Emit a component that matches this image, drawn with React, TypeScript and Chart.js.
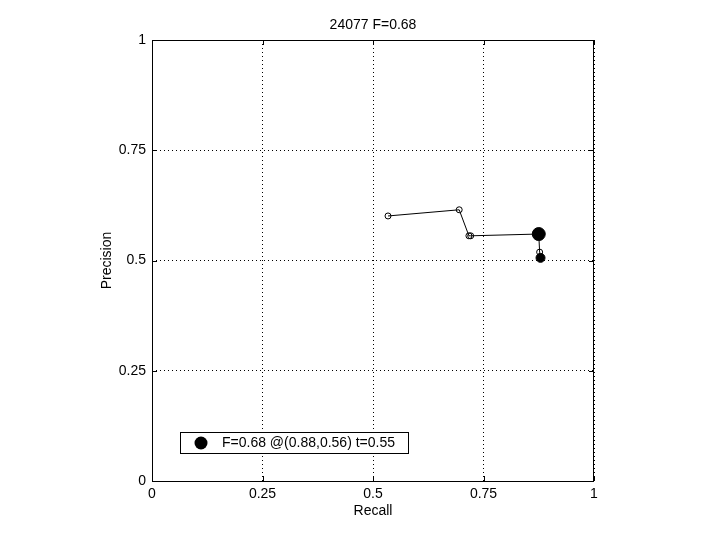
import React, { useEffect, useRef } from "react";
import { Chart, registerables } from "chart.js";

Chart.register(...registerables);

const recall = [0.534, 0.695, 0.717, 0.721, 0.875, 0.877, 0.879];
const precision = [0.601, 0.615, 0.556, 0.556, 0.56, 0.519, 0.506];
const pointFilled = [false, false, false, false, false, false, true];
const bestRecall = [0.875];
const bestPrecision = [0.56];
const tickValues = [0, 0.25, 0.5, 0.75, 1];
const tickLabels = ["0", "0.25", "0.5", "0.75", "1"];
const titleText = "24077 F=0.68";
const xLabel = "Recall";
const yLabel = "Precision";
const legendText = "F=0.68 @(0.88,0.56) t=0.55";

const FONT = "'Liberation Sans', Arial, Helvetica, sans-serif";

const decorPlugin = {
  id: "decor",
  afterDraw(chart: any) {
    const ctx = chart.ctx;
    const { left, right, top, bottom } = chart.chartArea;
    const xs = chart.scales.x;
    const ys = chart.scales.y;
    ctx.save();
    ctx.strokeStyle = "#000";
    ctx.lineWidth = 1;
    ctx.setLineDash([]);
    // box
    ctx.strokeRect(Math.round(left) + 0.5, Math.round(top) + 0.5, Math.round(right - left) - 1, Math.round(bottom - top));
    // inward ticks
    const tl = 5;
    ctx.beginPath();
    tickValues.forEach((v) => {
      const px = Math.round(xs.getPixelForValue(v)) + 0.5;
      ctx.moveTo(px, bottom);
      ctx.lineTo(px, bottom - tl);
      ctx.moveTo(px, top);
      ctx.lineTo(px, top + tl);
      const py = Math.round(ys.getPixelForValue(v)) + 0.5;
      ctx.moveTo(left, py);
      ctx.lineTo(left + tl, py);
      ctx.moveTo(right, py);
      ctx.lineTo(right - tl, py);
    });
    ctx.stroke();
    // texts
    ctx.fillStyle = "#000";
    ctx.font = `14px ${FONT}`;
    ctx.textAlign = "center";
    ctx.textBaseline = "middle";
    const cx = (left + right) / 2;
    ctx.fillText(titleText, cx, 25);
    ctx.fillText(xLabel, cx, 511);
    ctx.save();
    ctx.translate(107, (top + bottom) / 2);
    ctx.rotate(-Math.PI / 2);
    ctx.fillText(yLabel, 0, 0);
    ctx.restore();
    // legend
    ctx.fillStyle = "#fff";
    ctx.fillRect(180.5, 432.5, 228, 21);
    ctx.strokeRect(180.5, 432.5, 228, 21);
    ctx.fillStyle = "#000";
    ctx.beginPath();
    ctx.arc(201, 443, 6.5, 0, Math.PI * 2);
    ctx.fill();
    ctx.textAlign = "left";
    ctx.fillText(legendText, 222, 443.5);
    ctx.restore();
  },
};

export default function App() {
  const ref = useRef<HTMLCanvasElement>(null);
  useEffect(() => {
    document.body.style.margin = "0";
    const canvas = ref.current!;
    const chart = new Chart(canvas, {
      type: "scatter",
      data: {
        datasets: [
          {
            data: recall.map((r, i) => ({ x: r, y: precision[i] })),
            showLine: true,
            borderColor: "#000",
            borderWidth: 1,
            pointRadius: pointFilled.map((f) => (f ? 4.5 : 3)),
            pointBorderWidth: 1,
            pointBorderColor: "#000",
            pointBackgroundColor: pointFilled.map((f) => (f ? "#000" : "rgba(0,0,0,0)")),
          },
          {
            data: bestRecall.map((r, i) => ({ x: r, y: bestPrecision[i] })),
            showLine: false,
            pointRadius: 6.5,
            pointBorderWidth: 1,
            pointBorderColor: "#000",
            pointBackgroundColor: "#000",
          },
        ],
      },
      options: {
        animation: false,
        responsive: false,
        devicePixelRatio: 1,
        layout: { padding: { top: 40, right: 126, left: 0, bottom: 0 } },
        plugins: { legend: { display: false }, title: { display: false }, tooltip: { enabled: false } },
        scales: {
          x: {
            type: "linear",
            min: 0,
            max: 1,
            afterFit: (s: any) => {
              s.height = 59;
            },
            afterBuildTicks: (s: any) => {
              s.ticks = tickValues.map((v) => ({ value: v }));
            },
            ticks: {
              padding: 5,
              color: "#000",
              font: { family: FONT, size: 14 },
              maxRotation: 0,
              callback: (v: any) => tickLabels[tickValues.indexOf(Number(v))] ?? "",
            },
            grid: { color: "#000", lineWidth: 1, drawTicks: false },
            border: { display: false, dash: [1, 3] },
          },
          y: {
            type: "linear",
            min: 0,
            max: 1,
            afterFit: (s: any) => {
              s.width = 152;
            },
            afterBuildTicks: (s: any) => {
              s.ticks = tickValues.map((v) => ({ value: v }));
            },
            ticks: {
              padding: 6,
              color: "#000",
              font: { family: FONT, size: 14 },
              callback: (v: any) => tickLabels[tickValues.indexOf(Number(v))] ?? "",
            },
            grid: { color: "#000", lineWidth: 1, drawTicks: false },
            border: { display: false, dash: [1, 3] },
          },
        },
      } as any,
      plugins: [decorPlugin],
    });
    return () => chart.destroy();
  }, []);
  return (
    <div style={{ position: "absolute", left: 0, top: 0, width: 720, height: 540, background: "#fff" }}>
      <canvas ref={ref} width={720} height={540} />
    </div>
  );
}
